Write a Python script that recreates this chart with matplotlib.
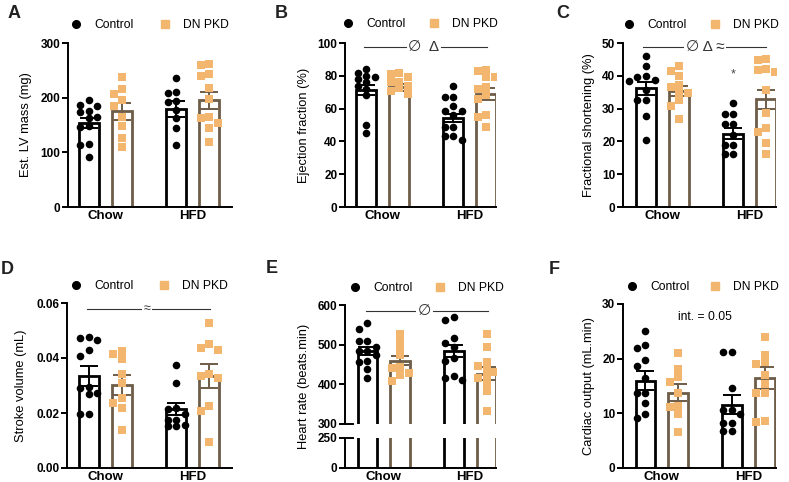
import numpy as np
import matplotlib
matplotlib.use("Agg")
import matplotlib.pyplot as plt
from matplotlib.lines import Line2D
from matplotlib.ticker import FormatStrFormatter

plt.rcParams["font.family"] = ["Liberation Sans", "DejaVu Sans"]

W, H = 789, 482
CTRL = "black"
DN_FACE = "#F2B66E"
DN_EDGE = "#6E5D48"

groups = ["Chow", "HFD"]
legend_labels = ["Control", "DN PKD"]

# A - estimated LV mass (mg)
lv_ctrl_chow = [196, 186, 185, 175, 173, 165, 162, 148, 147, 115, 114, 92]
lv_ctrl_hfd = [236, 211, 209, 193, 192, 178, 162, 144, 113]
lv_dn_chow = [238, 216, 206, 196, 185, 165, 148, 127, 109]
lv_dn_hfd = [262, 260, 244, 240, 217, 197, 165, 162, 154, 144, 119]
lv_mean_ctrl = [153, 179]
lv_sem_ctrl = [9, 14]
lv_mean_dn = [175, 195]
lv_sem_dn = [15, 15]

# B - ejection fraction (%)
ef_ctrl_chow = [84, 82, 80, 79, 78, 76, 74, 72, 68, 50, 45]
ef_ctrl_hfd = [73.5, 67, 67, 61.6, 58.8, 58.8, 56, 48.6, 48.6, 43, 43, 40.8]
ef_dn_chow = [82, 81, 79, 76.5, 76, 73.5, 72.4, 71, 69]
ef_dn_hfd = [83.7, 82.7, 79.2, 79.2, 73, 72, 68, 66, 56, 55, 48.6]
ef_mean_ctrl = [71.4, 54.5]
ef_sem_ctrl = [3, 2.5]
ef_mean_dn = [73, 69]
ef_sem_dn = [2.2, 3.8]

# C - fractional shortening (%)
fs_ctrl_chow = [46.1, 42.9, 40, 39.6, 38.8, 38.3, 35.7, 32.7, 32.7, 27.8, 20.4]
fs_ctrl_hfd = [31.6, 28.4, 28.4, 25.3, 25.3, 21.9, 18.9, 18.9, 16.3, 16.3]
fs_dn_chow = [42.9, 41.6, 40, 37.2, 36.5, 34.7, 34.7, 32.7, 30.8, 26.7]
fs_dn_hfd = [45.1, 44.9, 42, 41.8, 41.3, 35.7, 28.8, 24.2, 23, 19.6, 16.3]
fs_mean_ctrl = [36.2, 22.4]
fs_sem_ctrl = [2, 1.7]
fs_mean_dn = [35.4, 32.8]
fs_sem_dn = [1.6, 3]

# D - stroke volume (mL)
sv_ctrl_chow = [0.0477, 0.0472, 0.0467, 0.0428, 0.0408, 0.0295, 0.029, 0.0274, 0.0268, 0.0198, 0.0198]
sv_ctrl_hfd = [0.0375, 0.031, 0.0219, 0.0213, 0.0197, 0.0176, 0.0176, 0.0158, 0.0152, 0.0152]
sv_dn_chow = [0.0426, 0.0416, 0.0396, 0.0341, 0.031, 0.0256, 0.0237, 0.0217, 0.014]
sv_dn_hfd = [0.0526, 0.045, 0.0438, 0.043, 0.0343, 0.0335, 0.0326, 0.0225, 0.0209, 0.0095]
sv_mean_ctrl = [0.0335, 0.0215]
sv_sem_ctrl = [0.0037, 0.0021]
sv_mean_dn = [0.0302, 0.0335]
sv_sem_dn = [0.0035, 0.0043]

# E - heart rate (beats.min)
hr_ctrl_chow = [554, 539, 510, 510, 494, 484, 484, 474, 459, 457, 438, 415]
hr_ctrl_hfd = [569, 563, 518, 505, 493, 466, 459, 421, 415, 412]
hr_dn_chow = [527, 510, 493, 474, 444, 440, 429, 423, 408]
hr_dn_hfd = [528, 494, 457, 446, 438, 432, 421, 415, 400, 383, 332]
hr_mean_ctrl = [484, 484]
hr_sem_ctrl = [10, 14]
hr_mean_dn = [460, 427]
hr_sem_dn = [11, 16]

# F - cardiac output (mL.min)
co_ctrl_chow = [25.1, 22.5, 21.9, 19.7, 18.7, 16.5, 13.8, 13.8, 11.8, 9.9, 9.1]
co_ctrl_hfd = [21.3, 21.3, 14.6, 10.7, 10.7, 9.8, 8.3, 8.3, 6.7, 6.7]
co_dn_chow = [21.1, 18.2, 16.7, 15.8, 13.8, 11.3, 11.1, 9.9, 6.6]
co_dn_hfd = [24, 20.7, 19.3, 19.1, 17.1, 15.4, 13.8, 13.8, 8.6, 8.5]
co_mean_ctrl = [16.0, 11.6]
co_sem_ctrl = [1.8, 1.8]
co_mean_dn = [13.8, 16.4]
co_sem_dn = [1.5, 2.0]

OFF = 0.19   # bar offset from group centre
BW = 0.23    # bar width
STEP = 0.098  # horizontal step between scatter columns


def px_rect(x0, y0, x1, y1):
    return [x0 / W, 1 - y1 / H, (x1 - x0) / W, (y1 - y0) / H]


def swarm(vals, center, dy):
    # simple deterministic spread so points don't overlap
    xs, ys, placed = [], [], []
    for v in sorted(vals, reverse=True):
        for k in [0, -1, 1, -2, 2]:
            if all(not (pk == k and abs(v - pv) < dy) for pk, pv in placed):
                break
        placed.append((k, v))
        xs.append(center + k * STEP)
        ys.append(v)
    return xs, ys


def style(ax, ylim, yticks, xlim, fmt="%d", xlabels=True):
    ax.set_xlim(xlim)
    ax.set_ylim(ylim)
    ax.set_yticks(yticks)
    ax.yaxis.set_major_formatter(FormatStrFormatter(fmt))
    for s in ["top", "right"]:
        ax.spines[s].set_visible(False)
    for s in ["left", "bottom"]:
        ax.spines[s].set_linewidth(1.4)
    ax.tick_params(axis="y", length=4, width=1.4, labelsize=8.5, pad=1.5)
    ax.tick_params(axis="x", length=0, labelsize=9.5, pad=2.5)
    ax.set_xticks([0, 1])
    if xlabels:
        ax.set_xticklabels(groups, fontweight="bold")
    else:
        ax.set_xticklabels([])
    for lab in ax.get_yticklabels():
        lab.set_fontweight("bold")


def draw(ax, pts, mean_c, sem_c, mean_d, sem_d, ax_h_px, yspan, points=True):
    x = np.arange(2)
    ax.bar(x - OFF, mean_c, BW, facecolor="white", edgecolor=CTRL, linewidth=2.0, zorder=1)
    ax.bar(x + OFF, mean_d, BW, facecolor="white", edgecolor=DN_EDGE, linewidth=2.0, zorder=1)
    if not points:
        return
    ax.errorbar(x - OFF, mean_c, yerr=sem_c, fmt="none", ecolor=CTRL,
                elinewidth=1.4, capsize=6.5, capthick=1.4, zorder=2)
    ax.errorbar(x + OFF, mean_d, yerr=sem_d, fmt="none", ecolor=DN_EDGE,
                elinewidth=1.4, capsize=6.5, capthick=1.4, zorder=2)
    dy = 6.5 / ax_h_px * yspan
    ctrl_pts, dn_pts = pts
    for i in range(2):
        xs, ys = swarm(ctrl_pts[i], i - OFF, dy)
        ax.scatter(xs, ys, s=30, color=CTRL, marker="o", linewidths=0, zorder=3)
        xs, ys = swarm(dn_pts[i], i + OFF, dy)
        ax.scatter(xs, ys, s=27, color=DN_FACE, marker="s", linewidths=0, zorder=3)


def sig(ax, x0, x1, y, xc, txt, size=11):
    ax.plot([x0, x1], [y, y], color="#333333", lw=0.8, clip_on=False, zorder=4)
    ax.text(xc, y, txt, ha="center", va="center", fontsize=size, color="#333333",
            bbox=dict(boxstyle="square,pad=0.12", fc="white", ec="none"), zorder=5)


fig = plt.figure(figsize=(W / 100, H / 100), dpi=100)

# A
axA = fig.add_axes(px_rect(68, 43, 232, 207))
draw(axA, ([lv_ctrl_chow, lv_ctrl_hfd], [lv_dn_chow, lv_dn_hfd]),
     lv_mean_ctrl, lv_sem_ctrl, lv_mean_dn, lv_sem_dn, 164, 300)
style(axA, (0, 300), [0, 100, 200, 300], (-0.43, 1.45))
axA.set_ylabel("Est. LV mass (mg)", fontsize=9.3)
axA.yaxis.set_label_coords(-0.22, 0.5)

# B
axB = fig.add_axes(px_rect(345, 43, 496, 207))
draw(axB, ([ef_ctrl_chow, ef_ctrl_hfd], [ef_dn_chow, ef_dn_hfd]),
     ef_mean_ctrl, ef_sem_ctrl, ef_mean_dn, ef_sem_dn, 164, 100)
style(axB, (0, 100), [0, 20, 40, 60, 80, 100], (-0.435, 1.305))
axB.set_ylabel("Ejection fraction (%)", fontsize=9.3)
axB.yaxis.set_label_coords(-0.23, 0.5)
sig(axB, -0.22, 1.20, 97.6, 0.475, "\u2205  \u0394")

# C
axC = fig.add_axes(px_rect(623, 43, 776, 207))
draw(axC, ([fs_ctrl_chow, fs_ctrl_hfd], [fs_dn_chow, fs_dn_hfd]),
     fs_mean_ctrl, fs_sem_ctrl, fs_mean_dn, fs_sem_dn, 164, 50)
style(axC, (0, 50), [0, 10, 20, 30, 40, 50], (-0.454, 1.30))
axC.set_ylabel("Fractional shortening (%)", fontsize=9.3)
axC.yaxis.set_label_coords(-0.18, 0.5)
sig(axC, -0.22, 1.19, 48.8, 0.49, "\u2205 \u0394 \u2248")
axC.text(1 - OFF, 40.3, "*", ha="center", va="center", fontsize=9, color="#444444")

# D
axD = fig.add_axes(px_rect(67, 303, 232, 468))
draw(axD, ([sv_ctrl_chow, sv_ctrl_hfd], [sv_dn_chow, sv_dn_hfd]),
     sv_mean_ctrl, sv_sem_ctrl, sv_mean_dn, sv_sem_dn, 165, 0.06)
style(axD, (0, 0.06), [0, 0.02, 0.04, 0.06], (-0.44, 1.45), fmt="%.2f")
axD.set_ylabel("Stroke volume (mL)", fontsize=9.3)
axD.yaxis.set_label_coords(-0.24, 0.5)
sig(axD, -0.21, 1.20, 0.0578, 0.48, "\u2248", size=9)

# E - broken y axis
axE = fig.add_axes(px_rect(345, 305, 496, 424))
axE2 = fig.add_axes(px_rect(345, 438, 496, 468))
draw(axE, ([hr_ctrl_chow, hr_ctrl_hfd], [hr_dn_chow, hr_dn_hfd]),
     hr_mean_ctrl, hr_sem_ctrl, hr_mean_dn, hr_sem_dn, 119, 300)
draw(axE2, None, hr_mean_ctrl, None, hr_mean_dn, None, 30, 250, points=False)
style(axE, (300, 600), [300, 400, 500, 600], (-0.45, 1.30), xlabels=False)
axE.spines["bottom"].set_visible(False)
style(axE2, (0, 250), [0, 250], (-0.45, 1.30))
axE.set_ylabel("Heart rate (beats.min)", fontsize=9.3)
axE.yaxis.set_label_coords(-0.23, 0.32)
for a in (axE, axE2):
    yb = 0 if a is axE else 1
    a.plot([0, 0.055], [yb, yb], transform=a.transAxes, color="black",
           lw=1.4, clip_on=False, zorder=5)
sig(axE, -0.21, 1.21, 585, 0.47, "\u2205")

# F
axF = fig.add_axes(px_rect(623, 304, 776, 468))
draw(axF, ([co_ctrl_chow, co_ctrl_hfd], [co_dn_chow, co_dn_hfd]),
     co_mean_ctrl, co_sem_ctrl, co_mean_dn, co_sem_dn, 164, 30)
style(axF, (0, 30), [0, 10, 20, 30], (-0.45, 1.32))
axF.set_ylabel("Cardiac output (mL.min)", fontsize=9.3)
axF.yaxis.set_label_coords(-0.18, 0.5)
axF.text(0.5, 27.6, "int. = 0.05", ha="center", va="center", fontsize=8.7)

# legends
handles = [
    Line2D([], [], marker="o", ls="none", color=CTRL, markersize=5.5),
    Line2D([], [], marker="s", ls="none", color=DN_FACE, markersize=5.3),
]
legend_pos = [(70, 25, 2.07), (342, 24, 1.82), (623, 25, 1.82),
              (70, 286, 1.98), (349, 288, 1.74), (626, 287, 1.57)]
for lx, ly, cs in legend_pos:
    fig.legend(handles, legend_labels, loc="center left",
               bbox_to_anchor=(lx / W, 1 - ly / H), ncol=2, frameon=False,
               fontsize=8.7, handlelength=1, handletextpad=1.03,
               columnspacing=cs, borderpad=0, borderaxespad=0)

# panel letters
letters = [("A", 8, 5), ("B", 275, 5), ("C", 556, 5),
           ("D", 1, 261), ("E", 266, 260), ("F", 549, 261)]
for t, lx, ly in letters:
    fig.text(lx / W, 1 - ly / H, t, fontsize=13, fontweight="bold",
             color="#222222", ha="left", va="top")

fig.savefig("out.png", dpi=100)
